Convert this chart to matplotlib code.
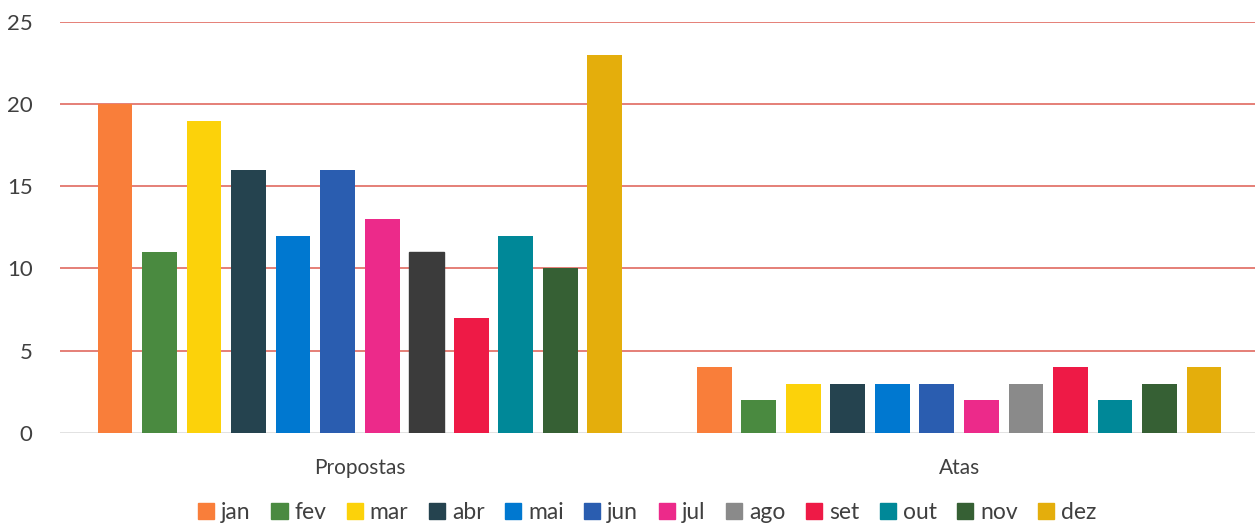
import numpy as np
import matplotlib.pyplot as plt
from matplotlib.patches import Patch

groups = ['Propostas', 'Atas']
months = ['jan', 'fev', 'mar', 'abr', 'mai', 'jun', 'jul', 'ago', 'set', 'out', 'nov', 'dez']
propostas = [20, 11, 19, 16, 12, 16, 13, 11, 7, 12, 10, 23]
atas = [4, 2, 3, 3, 3, 3, 2, 3, 4, 2, 3, 4]
colors = ['#f97e3a', '#4a8a40', '#fcd20a', '#25434f', '#0078d0', '#2a5db0',
          '#ec2a8a', '#8a8a8a', '#ee1a46', '#008898', '#366034', '#e4ae0c']
# in the scan the "ago" bar of Propostas prints much darker than its legend swatch
ago_propostas_color = '#3b3b3b'

plt.rcParams['font.family'] = ['Lato', 'DejaVu Sans']
text_col = '#404040'

fig = plt.figure(figsize=[12.55, 5.24], dpi=100)
ax = fig.add_axes([0.048, 0.174, 0.955, 0.784])

x = np.arange(len(groups))
pitch = 0.0743
width = 0.058
offsets = (np.arange(len(months)) - (len(months) - 1) / 2) * pitch

for i, m in enumerate(months):
    vals = [propostas[i], atas[i]]
    bars = ax.bar(x + offsets[i], vals, width, color=colors[i], zorder=3)
    if m == 'ago':
        bars[0].set_color(ago_propostas_color)

ax.set_xlim(-0.5, 1.5)
ax.set_ylim(0, 25)
ax.set_yticks(range(0, 26, 5))
for yv in range(5, 26, 5):
    ax.axhline(yv, color='#e06a60', linewidth=1.2, zorder=1)
ax.axhline(0, color='#dddddd', linewidth=1.2, zorder=1)
ax.set_xticks(x, groups)
for s in ax.spines.values():
    s.set_visible(False)
ax.tick_params(axis='both', length=0, colors=text_col)
ax.tick_params(axis='x', pad=18, labelsize=15)
ax.tick_params(axis='y', pad=20, labelsize=16)

handles = [Patch(color=c, label=m) for c, m in zip(colors, months)]
ax.legend(handles=handles, loc='upper center', bbox_to_anchor=(0.49, -0.118), ncol=12,
          frameon=False, fontsize=16.5, handlelength=0.7, handleheight=0.7,
          handletextpad=0.3, columnspacing=0.9, labelcolor=text_col)

plt.savefig('out.png', dpi=100)
